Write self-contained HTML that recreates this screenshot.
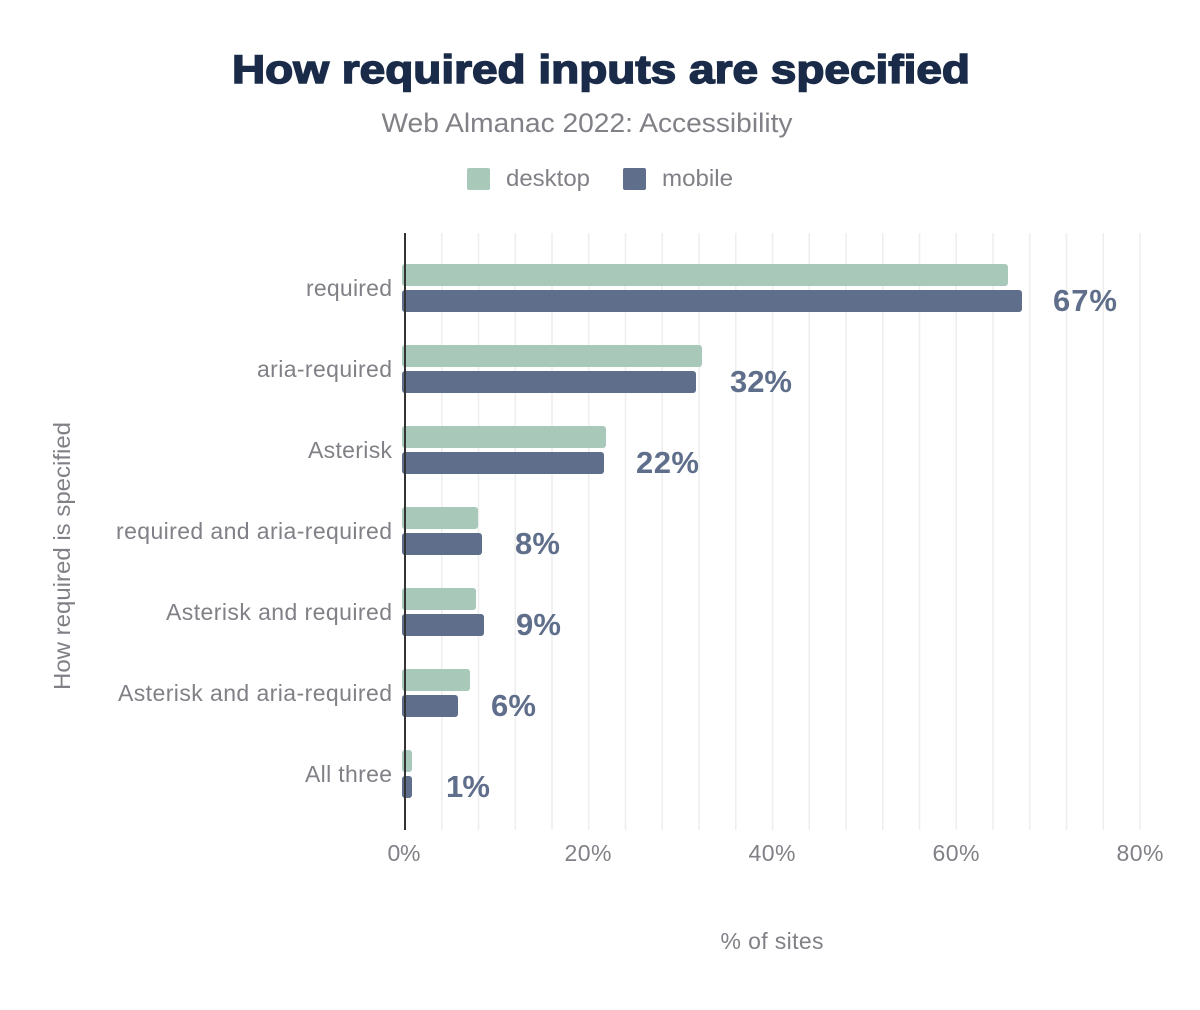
<!DOCTYPE html>
<html><head><meta charset="utf-8"><style>
html,body{margin:0;padding:0;background:#fff;}
svg{display:block;font-family:"Liberation Sans",Arial,sans-serif;}
</style></head><body>
<svg width="1200" height="1010" viewBox="0 0 1200 1010" xmlns="http://www.w3.org/2000/svg">
<text x="601" y="83" text-anchor="middle" font-size="40" font-weight="bold" fill="#1a2b49" textLength="738" lengthAdjust="spacingAndGlyphs" stroke="#1a2b49" stroke-width="1.5">How required inputs are specified</text>
<text x="587" y="132" text-anchor="middle" font-size="27" fill="#808087" textLength="411" lengthAdjust="spacingAndGlyphs">Web Almanac 2022: Accessibility</text>
<rect x="467" y="168" width="23" height="22" rx="2" fill="#a8c9b9"/>
<text x="506" y="186" font-size="23" fill="#808087" textLength="84" lengthAdjust="spacingAndGlyphs">desktop</text>
<rect x="623" y="168" width="23" height="22" rx="2" fill="#5f6e8a"/>
<text x="662" y="186" font-size="23" fill="#808087" textLength="71" lengthAdjust="spacingAndGlyphs">mobile</text>
<g stroke="#eeeeee" stroke-width="1.5">
<line x1="441.75" y1="233" x2="441.75" y2="830"/><line x1="478.5" y1="233" x2="478.5" y2="830"/><line x1="515.25" y1="233" x2="515.25" y2="830"/><line x1="552" y1="233" x2="552" y2="830"/><line x1="588.75" y1="233" x2="588.75" y2="830"/><line x1="625.5" y1="233" x2="625.5" y2="830"/><line x1="662.25" y1="233" x2="662.25" y2="830"/><line x1="699" y1="233" x2="699" y2="830"/><line x1="735.75" y1="233" x2="735.75" y2="830"/><line x1="772.5" y1="233" x2="772.5" y2="830"/><line x1="809.25" y1="233" x2="809.25" y2="830"/><line x1="846" y1="233" x2="846" y2="830"/><line x1="882.75" y1="233" x2="882.75" y2="830"/><line x1="919.5" y1="233" x2="919.5" y2="830"/><line x1="956.25" y1="233" x2="956.25" y2="830"/><line x1="993" y1="233" x2="993" y2="830"/><line x1="1029.75" y1="233" x2="1029.75" y2="830"/><line x1="1066.5" y1="233" x2="1066.5" y2="830"/><line x1="1103.25" y1="233" x2="1103.25" y2="830"/><line x1="1140" y1="233" x2="1140" y2="830"/>
</g>
<g fill="#a8c9b9">
<rect x="402" y="264" width="606" height="22" rx="3"/>
<rect x="402" y="345" width="300" height="22" rx="3"/>
<rect x="402" y="426" width="204" height="22" rx="3"/>
<rect x="402" y="507" width="76" height="22" rx="3"/>
<rect x="402" y="588" width="74" height="22" rx="3"/>
<rect x="402" y="669" width="68" height="22" rx="3"/>
<rect x="402" y="750" width="10" height="22" rx="3"/>
</g>
<g fill="#5f6e8a">
<rect x="402" y="290" width="620" height="22" rx="3"/>
<rect x="402" y="371" width="294" height="22" rx="3"/>
<rect x="402" y="452" width="202" height="22" rx="3"/>
<rect x="402" y="533" width="80" height="22" rx="3"/>
<rect x="402" y="614" width="82" height="22" rx="3"/>
<rect x="402" y="695" width="56" height="22" rx="3"/>
<rect x="402" y="776" width="10" height="22" rx="3"/>
</g>
<line x1="405" y1="233" x2="405" y2="830" stroke="#333" stroke-width="2"/>
<g font-size="31" font-weight="bold" fill="#5f6e8a" lengthAdjust="spacingAndGlyphs">
<text x="1053" y="311" textLength="64">67%</text>
<text x="730" y="392" textLength="62">32%</text>
<text x="636" y="473" textLength="63">22%</text>
<text x="515" y="554" textLength="45">8%</text>
<text x="516" y="635" textLength="45">9%</text>
<text x="491" y="716" textLength="45">6%</text>
<text x="446" y="797" textLength="44">1%</text>
</g>
<g font-size="23" fill="#808087" text-anchor="end" lengthAdjust="spacingAndGlyphs">
<text x="392" y="296" textLength="86">required</text>
<text x="392" y="377" textLength="135">aria-required</text>
<text x="392" y="458" textLength="84">Asterisk</text>
<text x="392" y="539" textLength="276">required and aria-required</text>
<text x="392" y="620" textLength="226">Asterisk and required</text>
<text x="392" y="701" textLength="274">Asterisk and aria-required</text>
<text x="392" y="782" textLength="87">All three</text>
</g>
<g font-size="23" fill="#808087" text-anchor="middle" lengthAdjust="spacingAndGlyphs">
<text x="404" y="861" textLength="33">0%</text>
<text x="588" y="861" textLength="47">20%</text>
<text x="772" y="861" textLength="47">40%</text>
<text x="956" y="861" textLength="47">60%</text>
<text x="1140" y="861" textLength="47">80%</text>
<text x="772" y="949" textLength="103">% of sites</text>
</g>
<text transform="translate(70,556) rotate(-90)" text-anchor="middle" font-size="23" fill="#808087" textLength="268" lengthAdjust="spacingAndGlyphs">How required is specified</text>
</svg>
</body></html>
